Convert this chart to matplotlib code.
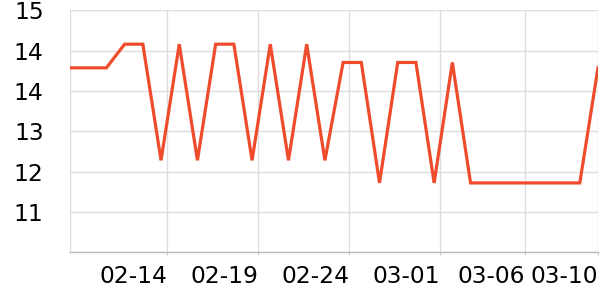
import matplotlib
matplotlib.use("Agg")
import matplotlib.pyplot as plt
import pandas as pd

# Data
dates = pd.date_range("2025-02-09", periods=30, freq="D")
values = [13.93, 13.93, 13.93, 14.37, 14.37, 12.21, 14.37, 12.21, 14.37, 14.37,
          12.21, 14.37, 12.21, 14.37, 12.21, 14.03, 14.03, 11.79, 14.03, 14.03,
          11.79, 14.03, 11.79, 11.79, 11.79, 11.79, 11.79, 11.79, 11.79, 13.93]

x_tick_pos = pd.to_datetime(["2025-02-14 08:00", "2025-02-19 08:00", "2025-02-24 08:00",
                             "2025-03-01 08:00", "2025-03-06 00:00", "2025-03-10 00:00"])
x_tick_labels = ["02-14", "02-19", "02-24", "03-01", "03-06", "03-10"]
y_tick_pos = [15, 14.25, 13.5, 12.75, 12, 11.25, 10.5]
y_tick_labels = ["15", "14", "14", "13", "12", "11", ""]

fig = plt.figure(figsize=(6, 3), dpi=100)
ax = fig.add_axes([70/600, (300-252.3)/300, 528/600, (252.3-10.3)/300])

ax.plot(dates, values, color="#ef4b2d", linewidth=2.3, solid_joinstyle="miter", zorder=3)

ax.set_xlim(dates[0], dates[-1])
ax.set_ylim(10.5, 15)

ax.set_yticks(y_tick_pos)
ax.set_yticklabels(y_tick_labels)
ax.set_xticks(x_tick_pos)
ax.set_xticklabels(x_tick_labels, ha="right")
ax.grid(True, color="#dddddd", linewidth=1.0, zorder=0)
ax.axvline(dates[0], color="#dddddd", linewidth=1.0, zorder=0)

for s in ["top", "right", "left"]:
    ax.spines[s].set_visible(False)
ax.spines["bottom"].set_color("#bbbbbb")
ax.spines["bottom"].set_linewidth(1.0)

ax.tick_params(axis="y", length=0, pad=19, labelsize=16.8, colors="black")
ax.tick_params(axis="x", length=2, pad=7, labelsize=16.8, color="#cccccc", labelcolor="black")
for lbl in ax.get_xticklabels():
    lbl.set_horizontalalignment("right")

fig.savefig("out.png", dpi=100)
